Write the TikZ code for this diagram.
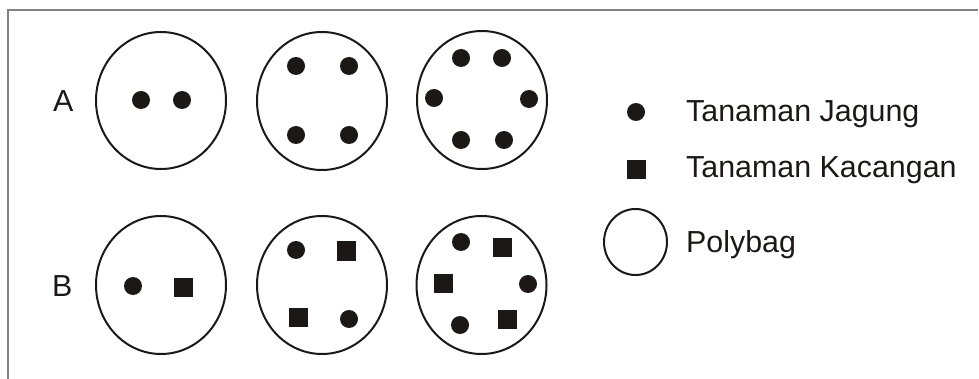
\documentclass[tikz,border=0pt]{standalone}
\usepackage{fontspec}
\setmainfont{Liberation Sans}
\definecolor{ink}{RGB}{28,24,24}
\definecolor{frame}{RGB}{130,130,130}
\tikzset{
  bag/.style={draw=ink, line width=2pt},
  lbl/.style={anchor=base west, inner sep=0pt, text=ink, font=\fontsize{30.4}{34}\selectfont},
}
\newcommand\mydot[2]{\fill[ink] (#1,#2) circle[radius=9];}
\newcommand\mysq[2]{\fill[ink] (#1-9.5,#2-9.5) rectangle (#1+9.5,#2+9.5);}
\begin{document}
\begin{tikzpicture}[x=1pt,y=-1pt]
\useasboundingbox (0,0) rectangle (979,379);
\draw[frame, line width=1.4pt] (8,379) -- (8,10) -- (978,10);
% labels
\node[lbl] (la) at (53,112) {A};
\node[lbl] (lb) at (52,296) {B};
% row A
\draw[bag] (161,100.5) ellipse [x radius=65, y radius=68.5];
\mydot{141}{100}\mydot{182}{100}
\draw[bag] (322,101) ellipse [x radius=65, y radius=69];
\mydot{296}{66}\mydot{349}{66}\mydot{296}{135}\mydot{349}{135}
\draw[bag] (482,100) ellipse [x radius=65, y radius=69];
\mydot{461}{58}\mydot{502}{58}\mydot{434}{98}\mydot{529}{99}\mydot{461}{140}\mydot{504}{140}
% row B
\draw[bag] (161,285) ellipse [x radius=65, y radius=69];
\mydot{133}{286}\mysq{183}{287}
\draw[bag] (322,285) ellipse [x radius=65, y radius=69];
\mydot{296}{250}\mysq{346}{251}\mysq{298}{317}\mydot{349}{319}
\draw[bag] (481.5,285) ellipse [x radius=65, y radius=69];
\mydot{461}{242}\mysq{502}{248}\mysq{443}{283}\mydot{528}{284}\mydot{460}{325}\mysq{507}{319}
% legend
\mydot{636}{112}
\mysq{636}{170}
\draw[bag] (635.5,242) ellipse [x radius=31.5, y radius=33];
\node[lbl] (t1) at (686,122) {Tanaman Jagung};
\node[lbl] (t2) at (686,178) {Tanaman Kacangan};
\node[lbl] (t3) at (686,252.5) {Polybag};
\end{tikzpicture}
\end{document}
